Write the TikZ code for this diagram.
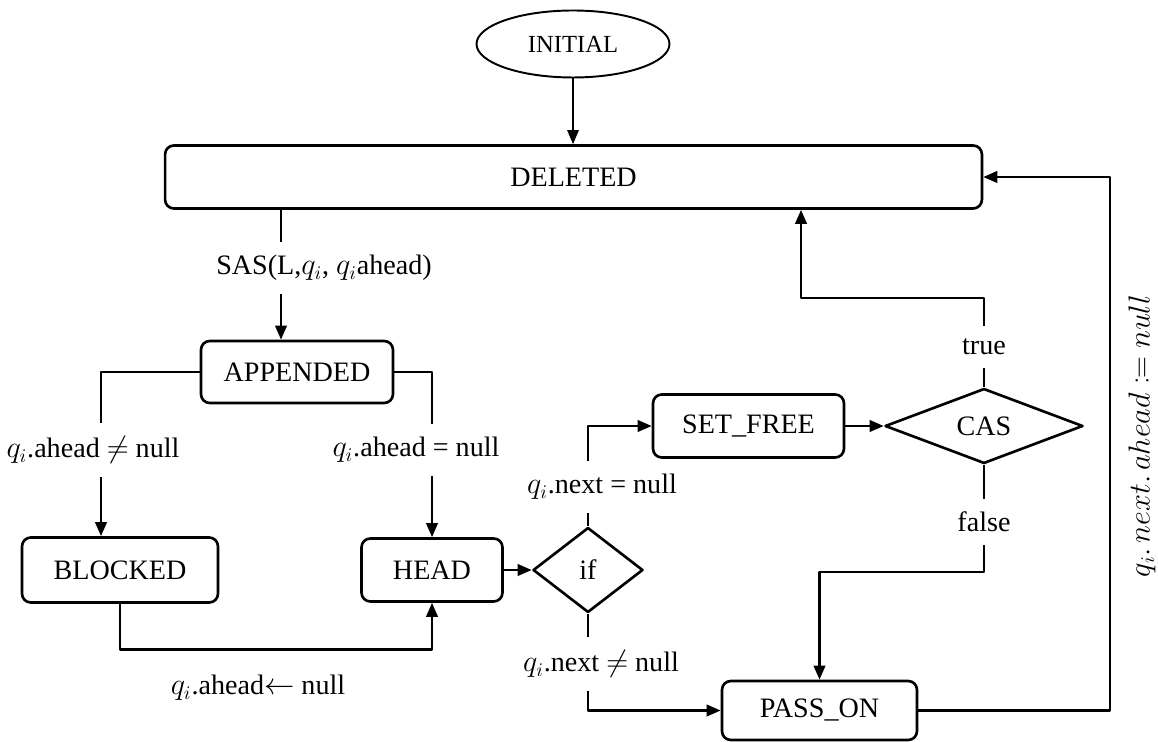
\documentclass[tikz,border=0pt]{standalone}
\usepackage{fontspec}
\usepackage{mathtools}
\setmainfont{Liberation Serif}
\usetikzlibrary{shapes.geometric,arrows.meta,positioning}
\begin{document}
\begin{tikzpicture}[x=0.02cm,y=-0.02cm,>={Triangle[length=8pt,width=6.5pt]},line width=1.5pt,line join=round,
	font=\fontsize{16}{19}\selectfont,
	state/.style={draw,rounded corners=5pt,minimum height=1.26cm,inner sep=0pt},
	test/.style={draw,diamond,inner sep=0pt},
	lab/.style={fill=white,inner xsep=2pt,inner ysep=7.5pt}]
	\useasboundingbox (0,0) rectangle (1158,742);
	% states
	\node[draw,ellipse,line width=1.1pt,minimum width=3.86cm,minimum height=1.34cm,inner sep=0pt,font=\fontsize{14}{17}\selectfont] (init) at (573,44) {INITIAL};
	\node[state,minimum width=16.34cm] (deleted) at (573.5,177) {DELETED};
	\node[state,minimum width=3.84cm,minimum height=1.24cm] (appended) at (297,372) {APPENDED};
	\node[state,minimum width=3.92cm,minimum height=1.3cm] (blocked) at (120,570) {BLOCKED};
	\node[state,minimum width=2.82cm] (head) at (432,570) {HEAD};
	\node[test,minimum width=2.2cm,minimum height=1.7cm] (iftest) at (588,570) {if};
	\node[state,minimum width=3.82cm] (setfree) at (748.5,426) {SET\_FREE};
	\node[test,minimum width=3.96cm,minimum height=1.5cm] (cas) at (984,426) {CAS};
	\node[state,minimum width=3.9cm,minimum height=1.18cm] (passon) at (819.5,710.5) {PASS\_ON};
	% transitions
	\draw[->,line width=0.9pt] (init.south) -- (init.south |- deleted.north);
	\draw[->] (deleted.south -| 281,0) -- (appended.north -| 281,0);
	\draw[->] (appended.west) -| (blocked.north -| 101,0);
	\draw[->] (appended.east) -| (head.north);
	\draw[->] (blocked.south) -- ++(0,46) -| (head.south);
	\draw[->] (head.east) -- (iftest.west);
	\draw[->] (iftest.north) |- (setfree.west);
	\draw[->] (iftest.south) |- (passon.west);
	\draw[->] (setfree.east) -- (cas.west);
	\draw[->] (cas.north) |- (801,298) -- (deleted.south -| 801,0);
	\draw[->] (cas.south) |- (passon.north |- 0,572) -- (passon.north);
	\draw[->] (passon.east) -| (1110,440) |- (deleted.east);
	% labels
	\node[lab] (sas) at (324,268) {SAS(L,$q_i$, $q_i$ahead)};
	\node[lab] (aheadne) at (93,450) {$q_i$.ahead $\neq$ null};
	\node[lab] (aheadeq) at (416,450) {$q_i$.ahead = null};
	\node (aheadset) at (258,688) {$q_i$.ahead$\leftarrow$ null};
	\node[lab] (nexteq) at (602,487) {$q_i$.next = null};
	\node[lab] (nextne) at (601,664) {$q_i$.next $\neq$ null};
	\node[lab] (casT) at (984,347) {true};
	\node[lab] (casF) at (984,522) {false};
	\node[rotate=90] (nextset) at (1142,436) {$q_i.\,next.\,ahead \coloneqq null$};
\end{tikzpicture}
\end{document}
